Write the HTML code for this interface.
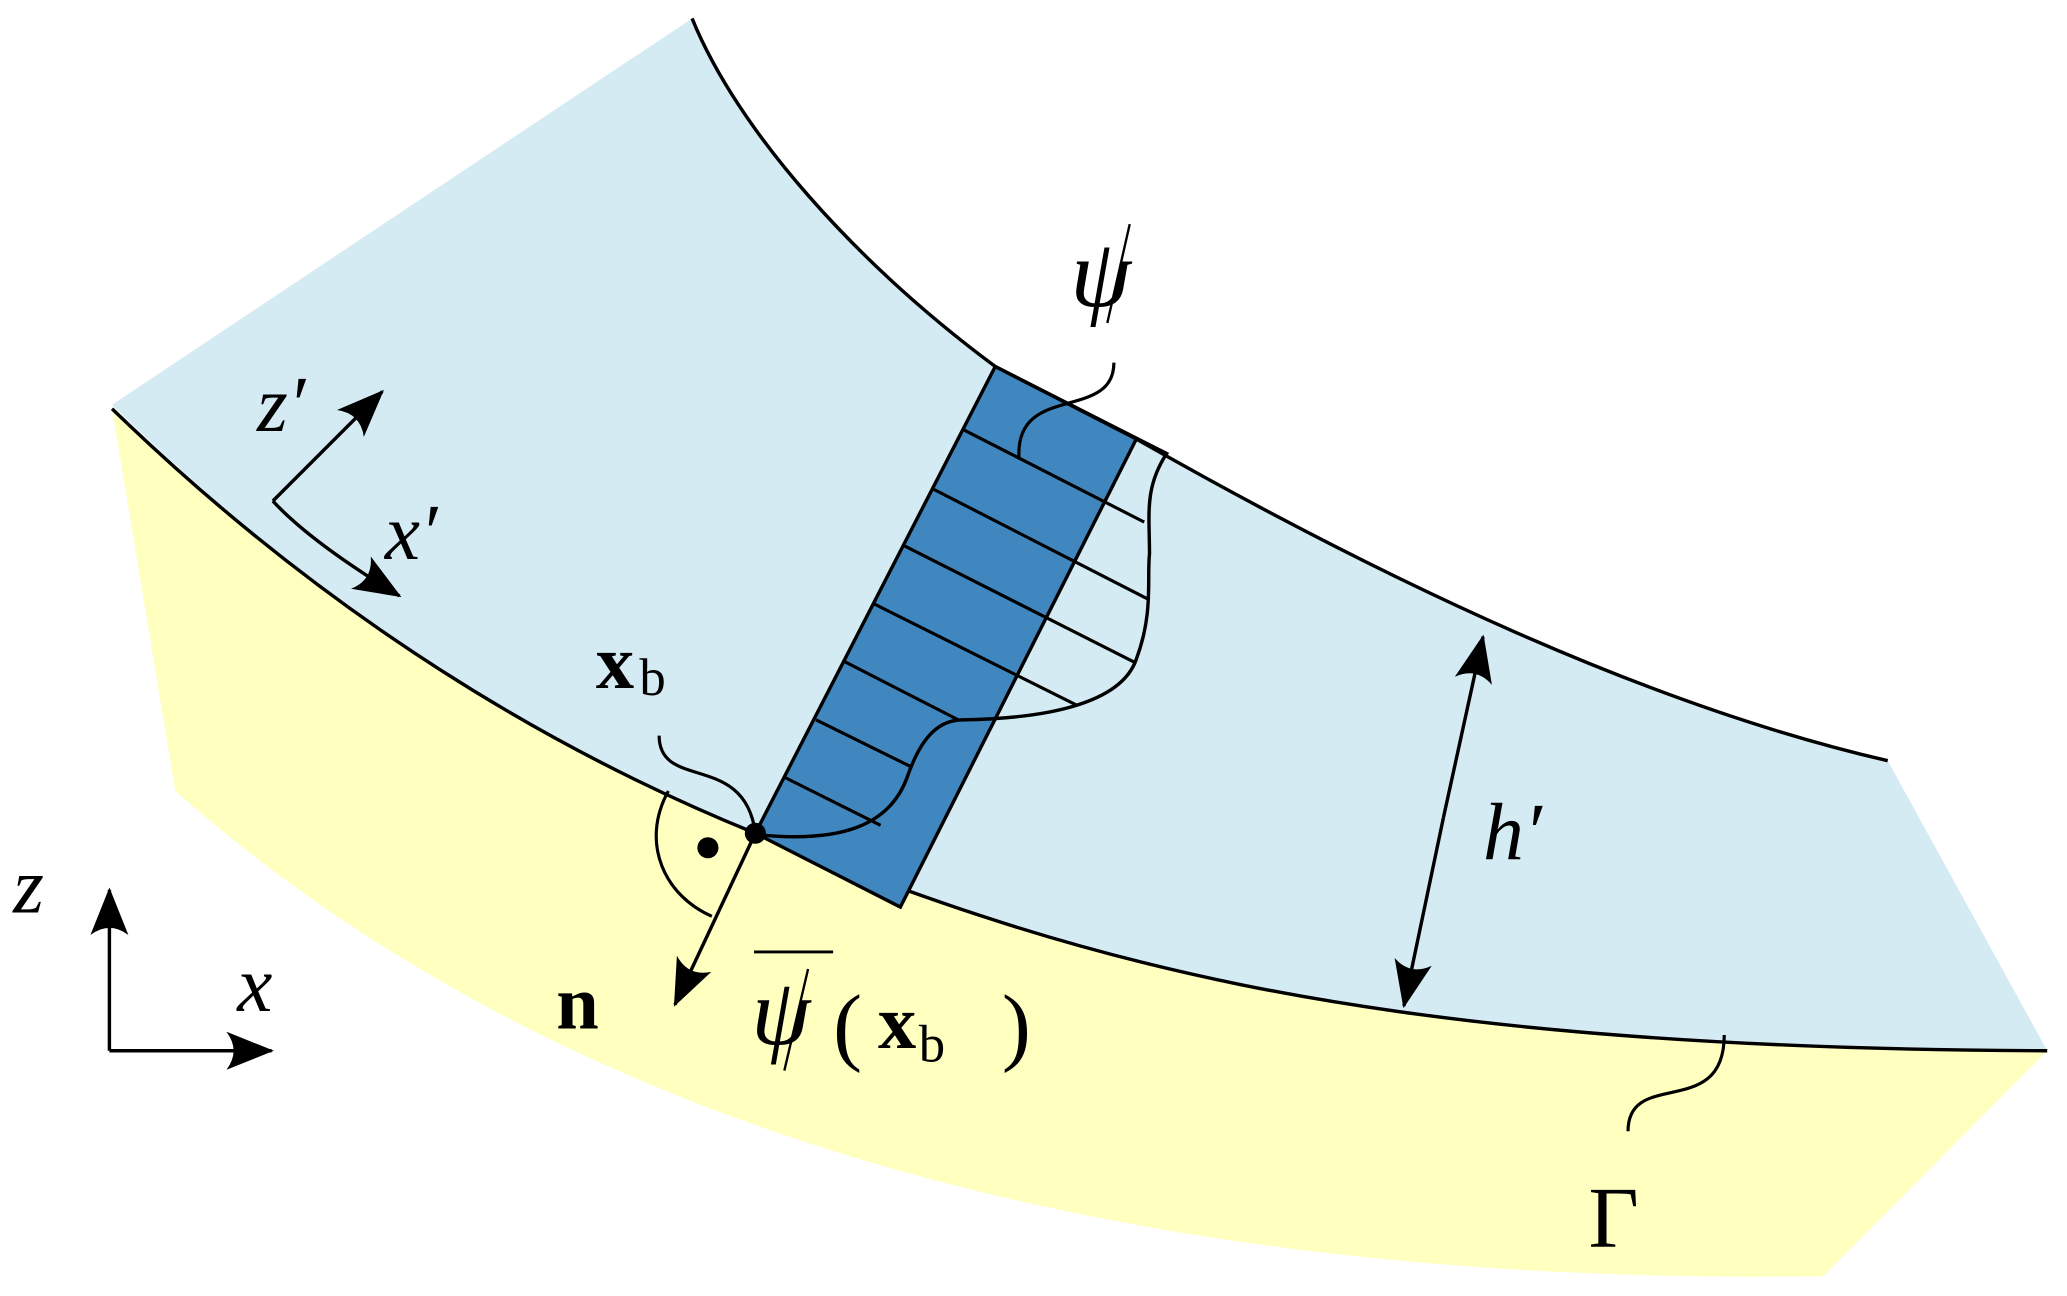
<!DOCTYPE html>
<html><head><meta charset="utf-8"><style>
html,body{margin:0;padding:0;background:#fff;}
svg{display:block;}
text{font-family:"Liberation Serif",serif;}
</style></head><body>
<svg width="2067" height="1296" viewBox="0 0 1568 983" preserveAspectRatio="none" xmlns="http://www.w3.org/2000/svg">
<defs>
<marker id="ah" viewBox="0 0 10 10" refX="9.5" refY="5" markerWidth="36" markerHeight="36" markerUnits="userSpaceOnUse" orient="auto">
<path d="M0,1 Q5,3 10,5 Q5,7 0,9 Q3,5 0,1z" fill="#000"/></marker>
</defs>
<path d="M85,310 L133,600 C450,880 900,975 1383,968 L1553,797 C1000,795 800,720 573,632 C420,570 250,470 85,310z" fill="#ffffc0"/>
<path d="M85,307 L525,14 C560,100 650,200 755,278 L885,344 C1050,440 1250,535 1432,577 L1553,797 C1000,795 800,720 573,632 C420,570 250,470 85,307z" fill="#d5ebf4"/>
<g fill="none" stroke="#000" stroke-width="2.6">
<path d="M525,14 C560,100 650,200 755,278"/>
<path d="M862,333 C1050,440 1250,535 1432,577"/>
<path d="M85,310 C250,470 420,570 573,632 C800,720 1000,795 1553,797"/>
</g>
<path d="M755,278 L862,333 L683,688 L573,632z" fill="#4187bf" stroke="#000" stroke-width="2.6"/>
<path d="M862,333 L885,344 C868,370 872,390 872,420 C870,440 875,465 862,500 C850,535 790,545 730,546 C715,546 700,555 688,590 C675,625 640,640 573,633" fill="none" stroke="#000" stroke-width="2.6"/>
<path d="M755,278 L885,344" stroke="#000" stroke-width="2.6"/>
<g stroke="#000" stroke-width="2.4">
<line x1="731" y1="326" x2="868" y2="396"/>
<line x1="708" y1="371" x2="872" y2="455"/>
<line x1="686" y1="414" x2="862" y2="503"/>
<line x1="663" y1="458" x2="817" y2="535"/>
<line x1="641" y1="502" x2="727" y2="546"/>
<line x1="619" y1="546" x2="692" y2="582"/>
<line x1="596" y1="590" x2="668" y2="626"/>
</g>
<g fill="none" stroke="#000" stroke-width="2.4">
<path d="M773,347 C770,290 845,320 845,275"/>
<path d="M573,632 C565,570 500,600 500,558"/>
<path d="M1235,858 C1235,810 1308,850 1308,785"/>
<path d="M507,600 C485,640 505,680 540,695"/>
</g>
<circle cx="573" cy="632" r="8" fill="#000"/>
<circle cx="537" cy="643" r="8" fill="#000"/>
<g stroke="#000" stroke-width="2.6" fill="none">
<line x1="573" y1="632" x2="512" y2="762" marker-end="url(#ah)"/>
<line x1="1095" y1="620" x2="1125" y2="483" marker-end="url(#ah)"/>
<line x1="1095" y1="620" x2="1065" y2="763" marker-end="url(#ah)"/>
<line x1="207" y1="380" x2="290" y2="297" marker-end="url(#ah)"/>
<path d="M207,380 C230,405 270,432 303,452" marker-end="url(#ah)"/>
<line x1="83" y1="797" x2="83" y2="675" marker-end="url(#ah)"/>
<line x1="83" y1="797" x2="206" y2="797" marker-end="url(#ah)"/>
</g>
<text x="812" y="232" font-size="74" font-style="italic">ψ</text>
<line x1="857" y1="170" x2="840" y2="245" stroke="#000" stroke-width="1.8"/>
<text x="195" y="327" font-size="60" font-style="italic">z′</text>
<text x="292" y="424" font-size="60" font-style="italic">x′</text>
<text x="452" y="522" font-size="58" font-weight="bold">x</text>
<text x="485" y="527" font-size="40">b</text>
<text x="1125" y="652" font-size="62" font-style="italic">h′</text>
<text x="10" y="692" font-size="60" font-style="italic">z</text>
<text x="180" y="767" font-size="60" font-style="italic">x</text>
<text x="422" y="780" font-size="58" font-weight="bold">n</text>
<line x1="572" y1="722" x2="632" y2="722" stroke="#000" stroke-width="2.2"/>
<text x="570" y="792" font-size="72" font-style="italic">ψ</text>
<line x1="613" y1="735" x2="595" y2="812" stroke="#000" stroke-width="1.8"/>
<text x="632" y="800" font-size="66">(</text>
<text x="666" y="795" font-size="58" font-weight="bold">x</text>
<text x="697" y="805" font-size="40">b</text>
<text x="760" y="800" font-size="66">)</text>
<text x="1205" y="946" font-size="66">Γ</text>
</svg>
</body></html>
